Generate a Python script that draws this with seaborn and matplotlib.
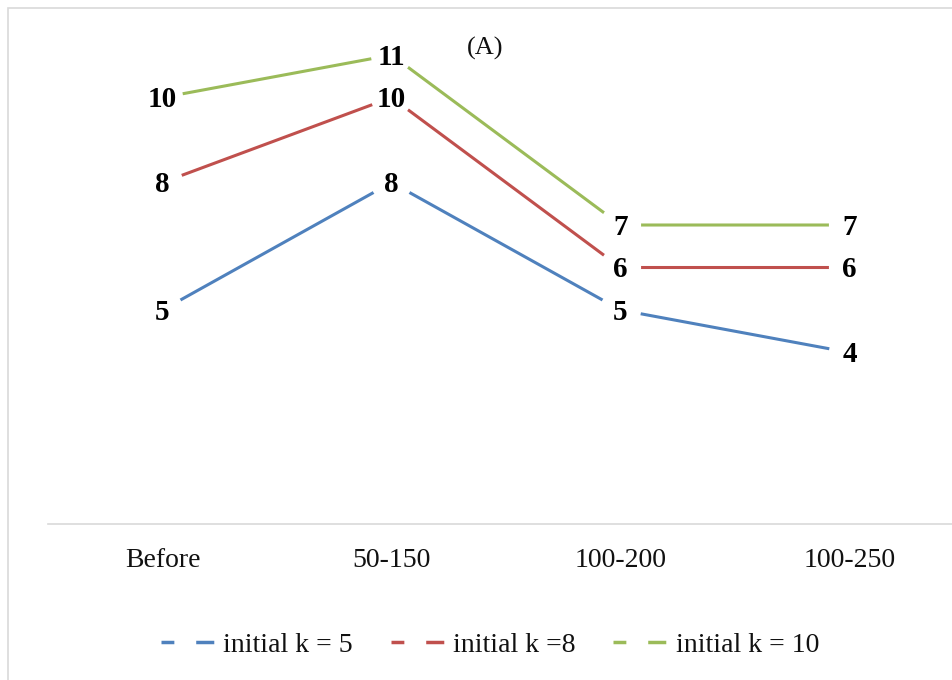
import matplotlib
matplotlib.use("Agg")
import matplotlib.pyplot as plt
from matplotlib.lines import Line2D
from matplotlib.patches import Rectangle
import seaborn as sns
import pandas as pd

categories = ["Before", "50-150", "100-200", "100-250"]
k5 = [5, 8, 5, 4]
k8 = [8, 10, 6, 6]
k10 = [10, 11, 7, 7]
series_names = ["initial k = 5", "initial k =8", "initial k = 10"]
colors = ["#4F81BD", "#C0504D", "#9BBB59"]

sns.set_theme(style="white")
plt.rcParams["font.family"] = ["Liberation Serif", "DejaVu Serif"]

rows = []
for name, vals in zip(series_names, [k5, k8, k10]):
    for i, (c, v) in enumerate(zip(categories, vals)):
        rows.append({"pos": i, "cat": c, "value": v, "series": name})
df = pd.DataFrame(rows)

fig = plt.figure(figsize=(9.53, 6.8), dpi=100)
fig.patch.set_facecolor("white")
fig.patches.append(Rectangle((8 / 953, -0.05), 1.0, 1.05 - 8 / 680, transform=fig.transFigure,
                             fill=False, edgecolor="#d9d9d9", linewidth=1.2))

ax = fig.add_axes([48 / 953, 156 / 680, 916 / 953, 511.5 / 680])
sns.lineplot(data=df, x="pos", y="value", hue="series", palette=colors,
             linewidth=2.2, ax=ax, legend=False, sort=False, zorder=2)
# white masks around points (gap where data labels sit)
sns.scatterplot(data=df, x="pos", y="value", color="white", s=880, edgecolor="none",
                ax=ax, legend=False, zorder=3)

ax.set_xlim(-0.5, 3.5)
ax.set_ylim(-0.035, 12)
ax.set_xticks(range(len(categories)))
ax.set_xticklabels(categories, fontsize=20, color="#111111")
ax.tick_params(axis="x", length=0, pad=17)
ax.set_yticks([])
ax.set_xlabel("")
ax.set_ylabel("")
for s in ["top", "left", "right"]:
    ax.spines[s].set_visible(False)
ax.spines["bottom"].set_color("#d9d9d9")
ax.spines["bottom"].set_linewidth(1.2)
ax.set_facecolor("none")

for vals in [k5, k8, k10]:
    for i, v in enumerate(vals):
        ax.text(i, v - 0.05, str(v), ha="center", va="center", fontsize=21, fontweight="bold",
                color="black", zorder=4)

ax.text(1.41, 11.16, "(A)", ha="center", va="center", fontsize=19, color="#111111")

handles = [Line2D([0], [0], color=c, linewidth=2.5, linestyle=(0, (3.7, 6.3, 5.2, 30)))
           for c in colors]
fig.legend(handles, series_names, loc="center", bbox_to_anchor=(490 / 953, 1 - 645 / 680),
           ncol=3, frameon=False, fontsize=20, handlelength=2.0, handletextpad=0.25,
           columnspacing=1.35, labelcolor="#111111")

fig.savefig("out.png", dpi=100, facecolor="white")
